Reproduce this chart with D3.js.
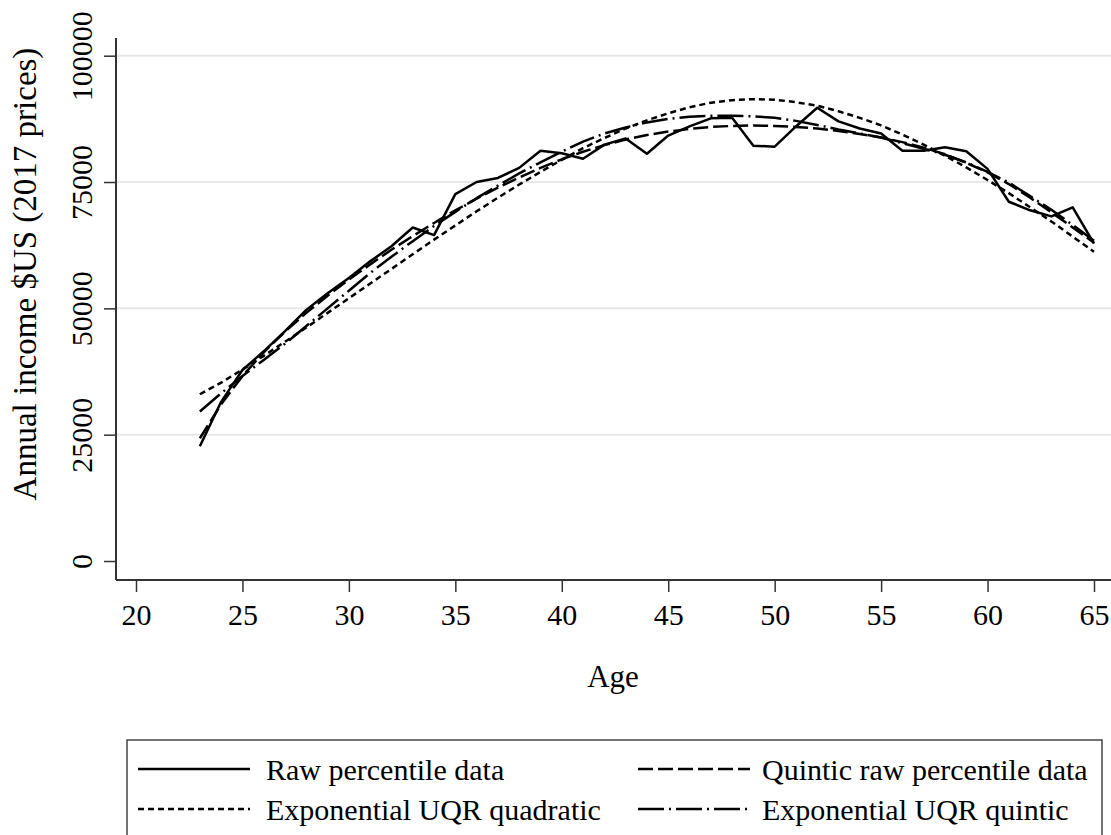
<!DOCTYPE html>
<html>
<head>
<meta charset="utf-8">
<script src="https://cdn.jsdelivr.net/npm/d3@7"></script>
<style>
  body { margin: 0; background: #fff; }
  svg { display: block; }
</style>
</head>
<body>
<svg id="chart" width="1111" height="835"></svg>
<script>
// ages on the x axis
const ages = [23, 24, 25, 26, 27, 28, 29, 30, 31, 32, 33, 34, 35, 36, 37, 38, 39, 40, 41, 42, 43,
  44, 45, 46, 47, 48, 49, 50, 51, 52, 53, 54, 55, 56, 57, 58, 59, 60, 61, 62, 63, 64, 65];

// annual income, $US 2017 prices
const rawPercentile = [22700, 31500, 37800, 41500, 45500, 49700, 53000, 56000, 59300, 62300, 66000,
  64500, 72600, 75000, 75800, 77800, 81200, 80700, 79600, 82400, 83600, 80600, 84200, 86000, 87600,
  87700, 82200, 82000, 86000, 89700, 87000, 85600, 84600, 81200, 81200, 81900, 81100, 77600, 71100,
  69400, 68200, 70000, 62800];
const quinticRaw = [24300, 31000, 36600, 41300, 45400, 49100, 52500, 55700, 58700, 61600, 64300,
  66900, 69400, 71700, 73900, 75900, 77800, 79500, 81000, 82300, 83400, 84300, 85000, 85500, 85900,
  86100, 86200, 86100, 85900, 85600, 85100, 84500, 83800, 82900, 81800, 80500, 78800, 76900, 74600,
  71900, 69000, 66000, 63000];
const uqrQuadratic = [33000, 35300, 37900, 40600, 43400, 46200, 49100, 52000, 54900, 57800, 60700,
  63600, 66400, 69200, 71900, 74500, 77000, 79400, 81700, 83700, 85600, 87200, 88600, 89800, 90700,
  91200, 91400, 91300, 90800, 90100, 89000, 87700, 86200, 84400, 82400, 80200, 77900, 75400, 72800,
  70000, 67200, 64200, 61200];
const uqrQuintic = [29600, 33200, 36600, 39800, 43000, 46500, 50000, 53500, 57000, 60200, 63300,
  66300, 69100, 71800, 74300, 76700, 78900, 81000, 83000, 84600, 85800, 86800, 87500, 87900, 88100,
  88100, 88000, 87700, 87100, 86300, 85400, 84600, 83800, 82700, 81600, 80400, 78900, 77000, 74900,
  72200, 69500, 66500, 63400];

const xTickValues = [20, 25, 30, 35, 40, 45, 50, 55, 60, 65];
const yTickValues = [0, 25000, 50000, 75000, 100000];

const seriesNames = ['Raw percentile data', 'Quintic raw percentile data',
  'Exponential UQR quadratic', 'Exponential UQR quintic'];

const font = '"Liberation Serif", "DejaVu Serif", serif';

// line patterns, same order as seriesNames
const dashes = [null, '15,5', '6,4', '26,5,2,5'];
const seriesValues = [rawPercentile, quinticRaw, uqrQuadratic, uqrQuintic];

const svg = d3.select('#chart');

const x = d3.scaleLinear().domain([20, 65]).range([136, 1094]);
const y = d3.scaleLinear().domain([0, 100000]).range([561, 55.7]);

const axisX = 116, axisY = 580;

// gridlines
svg.append('g').selectAll('line').data(yTickValues.filter(d => d > 0)).enter().append('line')
  .attr('x1', axisX).attr('x2', 1111)
  .attr('y1', d => y(d)).attr('y2', d => y(d))
  .attr('stroke', '#e8e8e8').attr('stroke-width', 2);

// y axis, labels turned vertical like the original
const yg = svg.append('g').attr('transform', `translate(${axisX},0)`)
  .call(d3.axisLeft(y).tickValues(yTickValues).tickSize(12).tickFormat(d3.format('d')));
yg.select('.domain').remove();
yg.selectAll('.tick line').attr('stroke', '#333').attr('stroke-width', 1.5);
yg.selectAll('.tick text')
  .attr('x', 0).attr('y', -24).attr('dy', null)
  .attr('transform', 'rotate(-90)')
  .attr('text-anchor', 'middle')
  .attr('fill', '#000')
  .style('font-family', font).style('font-size', '30px');

// x axis
const xg = svg.append('g').attr('transform', `translate(0,${axisY})`)
  .call(d3.axisBottom(x).tickValues(xTickValues).tickSize(12));
xg.select('.domain').remove();
xg.selectAll('.tick line').attr('stroke', '#333').attr('stroke-width', 1.5);
xg.selectAll('.tick text')
  .attr('y', 45).attr('dy', null)
  .attr('fill', '#000')
  .style('font-family', font).style('font-size', '30px');

// axis lines
svg.append('line').attr('x1', axisX).attr('x2', axisX).attr('y1', 38).attr('y2', axisY)
  .attr('stroke', '#333').attr('stroke-width', 2);
svg.append('line').attr('x1', axisX).attr('x2', 1111).attr('y1', axisY).attr('y2', axisY)
  .attr('stroke', '#333').attr('stroke-width', 2);

// axis titles
svg.append('text').attr('x', 613).attr('y', 687).attr('text-anchor', 'middle')
  .style('font-family', font).style('font-size', '31px').text('Age');
svg.append('text').attr('transform', 'translate(36,274) rotate(-90)').attr('text-anchor', 'middle')
  .style('font-family', font).style('font-size', '33px').text('Annual income $US (2017 prices)');

// series lines
const line = d3.line().x((d, i) => x(ages[i])).y(d => y(d));
seriesValues.forEach((vals, k) => {
  svg.append('path').datum(vals)
    .attr('d', line)
    .attr('fill', 'none')
    .attr('stroke', '#000')
    .attr('stroke-width', 2.5)
    .attr('stroke-linejoin', 'round')
    .attr('stroke-dasharray', dashes[k]);
});

// legend (box runs past the bottom edge, as in the original)
const legend = svg.append('g');
legend.append('rect').attr('x', 127).attr('y', 740).attr('width', 975).attr('height', 130)
  .attr('fill', 'none').attr('stroke', '#444').attr('stroke-width', 1.5);
const legendPos = [
  { sx: 138, tx: 266, y: 769 },
  { sx: 638, tx: 762, y: 769 },
  { sx: 138, tx: 266, y: 809 },
  { sx: 638, tx: 762, y: 809 },
];
seriesNames.forEach((name, k) => {
  const p = legendPos[k];
  legend.append('line').attr('x1', p.sx).attr('x2', p.sx + 112).attr('y1', p.y).attr('y2', p.y)
    .attr('stroke', '#000').attr('stroke-width', 2.5).attr('stroke-dasharray', dashes[k]);
  legend.append('text').attr('x', p.tx).attr('y', p.y + 11)
    .style('font-family', font).style('font-size', '30px').text(name);
});
</script>
</body>
</html>
